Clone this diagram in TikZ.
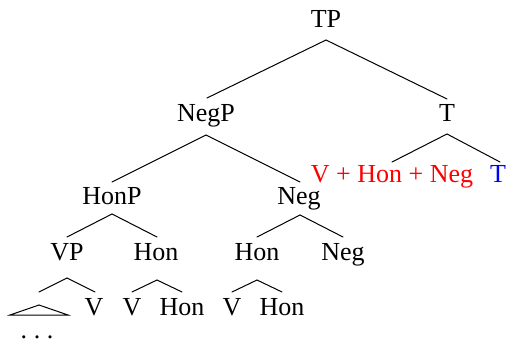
\documentclass[tikz,border=0pt]{standalone}
\usepackage{fontspec}
\setmainfont{Liberation Serif}
\usetikzlibrary{calc}
\tikzset{
  lab/.style={anchor=base, inner sep=0pt, font=\fontsize{13}{15}\selectfont},
  branch/.style={line width=0.5pt, line cap=round},
}
\begin{document}
\begin{tikzpicture}[x=0.5pt, y=-0.5pt]
  \useasboundingbox (0,0) rectangle (506,341);

  % labels (placed at their baselines)
  \node[lab] (TP)   at (326,28)  {TP};
  \node[lab] (NegP) at (206,122) {NegP};
  \node[lab] (T)    at (447,122) {T};
  \node[lab, text=red]  (VHN) at (392,183) {V + Hon + Neg};
  \node[lab, text=blue] (Tb)  at (498,183) {T};
  \node[lab] (HonP) at (112,205) {HonP};
  \node[lab] (Neg)  at (299,205) {Neg};
  \node[lab] (VP)   at (67,260)  {VP};
  \node[lab] (HonA) at (156,260) {Hon};
  \node[lab] (HonB) at (257,260) {Hon};
  \node[lab] (NegB) at (343,260) {Neg};
  \coordinate (roof) at (39,305);
  \node[lab] (V1)   at (94,315)  {V};
  \node[lab] (V2)   at (132,315) {V};
  \node[lab] (HonC) at (182,315) {Hon};
  \node[lab] (V3)   at (232,315) {V};
  \node[lab] (HonD) at (282,315) {Hon};
  \node[lab] (dots) at (37,338)  {.\hspace{0.25em}.\hspace{0.25em}.};

  % branches: parent apex below the label, child end above the label
  \begin{scope}[branch]
    \draw ($(TP.base)+(0,12)$)   -- ($(NegP.base)+(1,-24)$);
    \draw ($(TP.base)+(0,12)$)   -- ($(T.base)+(0,-23)$);
    \draw ($(T.base)+(0,12)$)    -- ($(VHN.base)+(0,-21)$);
    \draw ($(T.base)+(0,12)$)    -- ($(Tb.base)+(2,-21)$);
    \draw ($(NegP.base)+(0,13)$) -- ($(HonP.base)+(0,-23)$);
    \draw ($(NegP.base)+(0,13)$) -- ($(Neg.base)+(1,-23)$);
    \draw ($(HonP.base)+(0,9)$)  -- ($(VP.base)+(0,-23)$);
    \draw ($(HonP.base)+(0,9)$)  -- ($(HonA.base)+(1,-23)$);
    \draw ($(Neg.base)+(1,10)$)  -- ($(HonB.base)+(0,-23)$);
    \draw ($(Neg.base)+(1,10)$)  -- ($(NegB.base)+(0,-23)$);
    \draw ($(VP.base)+(0,18)$)   -- ($(roof)+(0,-13)$);
    \draw ($(VP.base)+(0,18)$)   -- ($(V1.base)+(1,-23)$);
    \draw ($(HonA.base)+(1,20)$) -- ($(V2.base)+(0,-23)$);
    \draw ($(HonA.base)+(1,20)$) -- ($(HonC.base)+(0,-23)$);
    \draw ($(HonB.base)+(0,20)$) -- ($(V3.base)+(0,-23)$);
    \draw ($(HonB.base)+(0,20)$) -- ($(HonD.base)+(0,-23)$);
    % roof over the elided material
    \draw (roof) -- ++(-29,10) -- ++(58,0) -- cycle;
  \end{scope}
\end{tikzpicture}
\end{document}
